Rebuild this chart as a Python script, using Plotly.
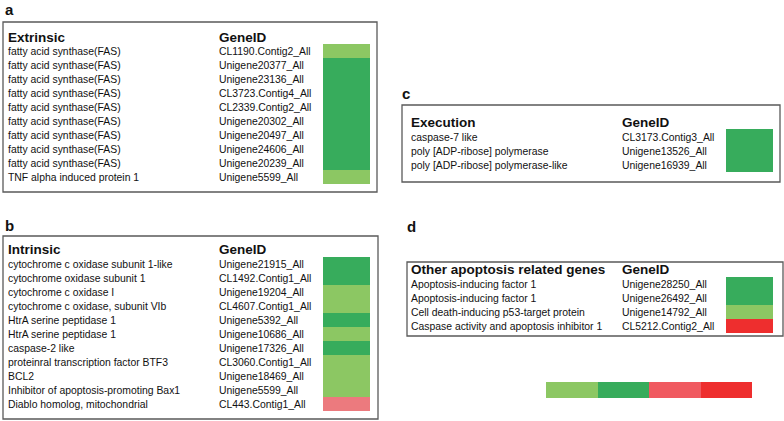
import plotly.graph_objects as go

# ---------------- data ----------------
extr_genes = ["fatty acid synthase(FAS)"] * 9 + ["TNF alpha induced protein 1"]
extr_ids = ["CL1190.Contig2_All", "Unigene20377_All", "Unigene23136_All", "CL3723.Contig4_All",
            "CL2339.Contig2_All", "Unigene20302_All", "Unigene20497_All", "Unigene24606_All",
            "Unigene20239_All", "Unigene5599_All"]
extr_vals = [0, 1, 1, 1, 1, 1, 1, 1, 1, 0]

intr_genes = ["cytochrome c oxidase subunit 1-like", "cytochrome oxidase subunit 1",
              "cytochrome c oxidase I", "cytochrome c oxidase, subunit VIb",
              "HtrA serine peptidase 1", "HtrA serine peptidase 1", "caspase-2 like",
              "proteinral transcription factor BTF3", "BCL2",
              "Inhibitor of apoptosis-promoting Bax1", "Diablo homolog, mitochondrial"]
intr_ids = ["Unigene21915_All", "CL1492.Contig1_All", "Unigene19204_All", "CL4607.Contig1_All",
            "Unigene5392_All", "Unigene10686_All", "Unigene17326_All", "CL3060.Contig1_All",
            "Unigene18469_All", "Unigene5599_All", "CL443.Contig1_All"]
intr_vals = [1, 1, 0, 0, 1, 0, 1, 0, 0, 0, 2]

exec_genes = ["caspase-7 like", "poly [ADP-ribose] polymerase", "poly [ADP-ribose] polymerase-like"]
exec_ids = ["CL3173.Contig3_All", "Unigene13526_All", "Unigene16939_All"]
exec_vals = [1, 1, 1]

other_genes = ["Apoptosis-inducing factor 1", "Apoptosis-inducing factor 1",
               "Cell death-inducing p53-target protein", "Caspase activity and apoptosis inhibitor 1"]
other_ids = ["Unigene28250_All", "Unigene26492_All", "Unigene14792_All", "CL5212.Contig2_All"]
other_vals = [1, 1, 0, 4]

legend_vals = [0, 1, 3, 4]

# ---------------- style ----------------
colors = ["#8CC763", "#37AC5C", "#EC7A7E", "#F05A60", "#EE2E2E"]
ncol = len(colors)
cscale = []
for i, c in enumerate(colors):
    cscale.append([i / ncol, c])
    cscale.append([(i + 1) / ncol, c])

FONT = "Liberation Sans, Arial, sans-serif"
W, H = 784, 421
PAD = 2  # annotation inner padding compensation

panels = [
    dict(letter="a", lx=5, ly=9, title="Extrinsic", genes=extr_genes, ids=extr_ids, vals=extr_vals,
         box=(3, 22, 377, 192), tx=8, ty=37, gx=219, row0=51, rowh=14, hx=(323, 370), htop=44),
    dict(letter="b", lx=5, ly=225, title="Intrinsic", genes=intr_genes, ids=intr_ids, vals=intr_vals,
         box=(3, 236, 378, 419), tx=8, ty=249, gx=219, row0=264, rowh=14, hx=(323, 370), htop=257),
    dict(letter="c", lx=402, ly=93, title="Execution", genes=exec_genes, ids=exec_ids, vals=exec_vals,
         box=(402, 105, 780, 182), tx=411, ty=122, gx=622, row0=137, rowh=14, hx=(726, 773), htop=129,
         hrowh=14.33),
    dict(letter="d", lx=407, ly=226, title="Other apoptosis related genes", genes=other_genes,
         ids=other_ids, vals=other_vals, box=(407, 262, 783, 336), tx=411, ty=269, gx=622,
         row0=284, rowh=14, hx=(726, 773), htop=277),
]

fig = go.Figure()
annotations = []
shapes = []

for p in panels:
    n = len(p["vals"])
    hrowh = p.get("hrowh", p["rowh"])
    yedges = [p["htop"] + hrowh * i for i in range(n + 1)]
    fig.add_trace(go.Heatmap(
        x=list(p["hx"]), y=yedges, z=[[v] for v in p["vals"]],
        colorscale=cscale, zmin=-0.5, zmax=ncol - 0.5, showscale=False, hoverinfo="skip"))
    x0, y0, x1, y1 = p["box"]
    shapes.append(dict(type="rect", xref="x", yref="y", x0=x0, y0=y0, x1=x1, y1=y1,
                       line=dict(color="#5a5a5a", width=1.3), fillcolor="rgba(0,0,0,0)", layer="below"))
    annotations.append(dict(x=p["lx"] - PAD, y=p["ly"], text="<b>%s</b>" % p["letter"], xanchor="left",
                            yanchor="middle", showarrow=False, font=dict(size=15, color="#111", family=FONT)))
    annotations.append(dict(x=p["tx"] - PAD, y=p["ty"], text="<b>%s</b>" % p["title"], xanchor="left",
                            yanchor="middle", showarrow=False, font=dict(size=13.5, color="#111", family=FONT)))
    annotations.append(dict(x=p["gx"] - PAD, y=p["ty"], text="<b>GeneID</b>",
                            xanchor="left", yanchor="middle", showarrow=False,
                            font=dict(size=13.5, color="#111", family=FONT)))
    for i, (g, gid) in enumerate(zip(p["genes"], p["ids"])):
        yy = p["row0"] + p["rowh"] * i
        annotations.append(dict(x=p["tx"] - PAD, y=yy, text=g, xanchor="left", yanchor="middle",
                                showarrow=False, font=dict(size=10.4, color="#111", family=FONT)))
        annotations.append(dict(x=p["gx"] - PAD, y=yy, text=gid, xanchor="left", yanchor="middle",
                                showarrow=False, font=dict(size=10.4, color="#111", family=FONT)))

# colour key
kx0, kx1, ky0, ky1 = 546, 752, 382, 398
nk = len(legend_vals)
fig.add_trace(go.Heatmap(
    x=[kx0 + (kx1 - kx0) * i / nk for i in range(nk + 1)], y=[ky0, ky1], z=[legend_vals],
    colorscale=cscale, zmin=-0.5, zmax=ncol - 0.5, showscale=False, hoverinfo="skip"))

fig.update_layout(
    width=W, height=H, margin=dict(l=0, r=0, t=0, b=0),
    paper_bgcolor="white", plot_bgcolor="white", showlegend=False,
    xaxis=dict(range=[0, W], visible=False, fixedrange=True),
    yaxis=dict(range=[H, 0], visible=False, fixedrange=True),
    annotations=annotations, shapes=shapes,
)

fig.write_html("out.html", config={"displayModeBar": False},
               post_script="document.body.style.margin='0';document.body.style.overflow='hidden';")
